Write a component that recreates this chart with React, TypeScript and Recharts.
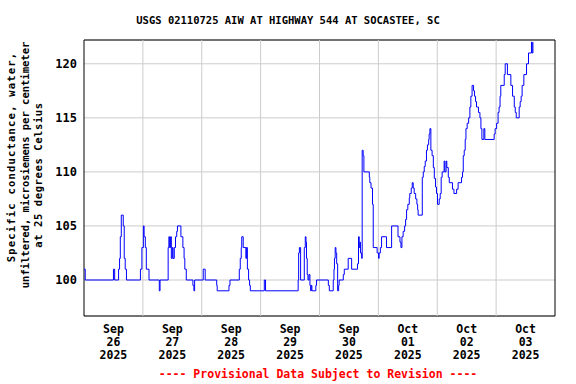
import React from 'react';
import { LineChart, Line, XAxis, YAxis, CartesianGrid, ReferenceLine, ReferenceArea } from 'recharts';

// hours since 2025-09-26 00:00 (change points of the step series)
const hours = [
  0, 0.5, 12, 12.5, 14.1, 14.5, 14.8, 15.2, 16.0, 16.4, 16.8, 17.3,
  23.0, 23.6, 24.2, 24.5, 25.0, 25.4, 26.5, 30.7, 31.0,
  34.3, 34.6, 34.9, 35.3, 35.6, 36.0, 36.3, 36.8, 37.3, 37.8, 38.1, 39.5, 40.3, 40.8, 41.1, 41.7,
  44.4, 44.8, 45.1, 48.6, 49.4, 54.1, 54.3, 59.1, 59.5,
  63.3, 63.7, 64.1, 64.3, 64.9, 66.0, 66.2, 66.6, 67.1, 67.5, 67.8, 73.5, 74.0,
  87.3, 87.5, 87.8, 88.3, 89.8, 90.2, 90.5, 90.7, 91.0, 91.3, 91.7, 92.1, 92.4, 92.6, 92.9, 94.5, 94.8,
  99.6, 100.0, 101.6, 101.9, 102.1, 102.4, 102.7, 103.0, 103.4, 103.8, 104.0, 105.7, 106.1, 107.7, 109.1,
  111.5, 111.9, 112.2, 112.5, 112.7, 113.2, 113.4, 113.8, 114.1, 116.3, 116.5, 117.0, 117.6, 117.9,
  119.5, 120.1, 120.3, 120.8, 121.3, 123.3, 125.4, 128.0, 128.8, 129.2, 129.6, 130.1, 130.7, 131.1,
  131.5, 132.0, 132.6, 132.8, 133.4, 133.8, 134.2, 134.6, 135.2, 135.7, 136.0, 136.2,
  137.9, 138.3, 138.7, 139.1, 139.6, 140.0, 140.5, 140.7, 141.0, 141.4, 141.9, 142.4, 142.8, 143.3,
  143.7, 144.1, 144.8, 145.2, 145.6, 146.0, 146.8, 147.1, 147.6, 147.9, 148.5, 148.9, 150.2, 150.8,
  151.9, 152.5, 153.9, 154.3, 154.6, 155.0, 155.4, 155.7, 156.2, 156.8, 157.3, 157.7, 158.2, 158.8,
  159.2, 159.6, 160.0, 160.8, 161.4, 161.8, 162.2, 163.0, 163.4, 167.2, 167.6, 168.2, 168.8, 169.2,
  169.6, 169.9, 171.3, 171.7, 172.6, 174.0, 174.7, 175.4, 175.8, 176.2, 177.4, 177.8, 178.2, 178.6,
  179.3, 180.4, 181.2, 182.4, 182.7, 183.0,
];

const values = [
  101, 100, 101, 100, 101, 102, 104, 106, 105, 102, 101, 100,
  101, 103, 105, 104, 103, 101, 100, 99, 100,
  103, 104, 103, 104, 102, 103, 102, 103, 104, 104.5, 105, 104, 103, 102, 101, 100,
  99.5, 99, 100, 101, 100, 99.5, 99, 99.5, 100,
  101, 102, 103, 104, 103, 102, 103, 101, 100, 99.5, 99, 100, 99,
  100, 102.5, 103, 100, 103, 104, 103.5, 102, 100.5, 100, 100.5, 99.5, 99, 99.5, 99, 99.5, 100,
  99.5, 99, 100, 101, 102, 103, 102.5, 101.5, 99, 99.5, 100, 100.5, 101, 102, 101,
  101.5, 104, 103, 103.5, 102.5, 102, 112, 111.5, 110, 109.5, 109, 108.5, 107, 103,
  102.5, 102, 102.5, 103, 104, 103, 105, 104, 103.5, 103, 104, 104.5, 105, 105.6,
  106.5, 107, 107.6, 108, 108.5, 109, 108.5, 108, 107.5, 107, 106.5, 106,
  109.5, 110, 110.5, 111, 112, 112.5, 113, 113.5, 114, 112, 111.5, 110.4, 109.4, 108.6,
  108, 107, 107.5, 108, 109.5, 110, 111, 110, 111, 110.4, 109.5, 109, 108.4, 108,
  108.4, 109, 109.5, 110, 111.5, 112, 113, 114, 114.5, 115, 116, 117, 118, 117.5,
  117, 116.5, 116, 115.5, 115, 114, 113, 114, 113, 113.5, 114, 114.5, 115.5, 116,
  117, 118, 119, 120, 119, 118, 117, 116, 115.5, 115, 116, 116.5, 117, 118,
  119, 120, 121, 122, 121, 122,
];

const data = hours.map((t, i) => ({ t, v: values[i] }));

const xTickHours = [12, 36, 60, 84, 108, 132, 156, 180];
const xTickMonths = ['Sep', 'Sep', 'Sep', 'Sep', 'Sep', 'Oct', 'Oct', 'Oct'];
const xTickDays = ['26', '27', '28', '29', '30', '01', '02', '03'];
const xTickYears = ['2025', '2025', '2025', '2025', '2025', '2025', '2025', '2025'];
const dayGridHours = [24, 48, 72, 96, 120, 144, 168];
const yTicks = [100, 105, 110, 115, 120];
const yDomain: [number, number] = [96.67, 122.2];
const xDomain: [number, number] = [0, 192];

const titleText = 'USGS 02110725 AIW AT HIGHWAY 544 AT SOCASTEE, SC';
const yLabelLines = [
  'Specific conductance, water,',
  'unfiltered, microsiemens per centimeter',
  'at 25 degrees Celsius',
];
const footerText = '---- Provisional Data Subject to Revision ----';

const FONT = '"DejaVu Sans Mono", "Liberation Mono", monospace';
const yLabelCenters = [157, 165, 175];
const yLabelSpacing = [1.2, 0, 0.6];

const XTick = (props: any) => {
  const { x, y, payload } = props;
  const i = xTickHours.indexOf(payload.value);
  if (i < 0) return null;
  const lines = [xTickMonths[i], xTickDays[i], xTickYears[i]];
  return (
    <text x={x} y={y} textAnchor="middle" fontFamily={FONT} fontSize={11.5} fontWeight="bold" fill="#000">
      {lines.map((l, k) => (
        <tspan key={k} x={x} dy={k === 0 ? 9 : 13}>
          {l}
        </tspan>
      ))}
    </text>
  );
};

const YTick = (props: any) => {
  const { y, payload } = props;
  return (
    <text x={77} y={y} dy={4} textAnchor="end" fontFamily={FONT} fontSize={12} fontWeight="bold" fill="#000">
      {payload.value}
    </text>
  );
};

export default function App() {
  return (
    <div style={{ position: 'absolute', left: 0, top: 0, width: 576, height: 384, background: '#fff' }}>
      <LineChart
        width={576}
        height={384}
        data={data}
        margin={{ top: 40, right: 21, bottom: 18, left: 0 }}
      >
        <CartesianGrid vertical={false} stroke="#cccccc" strokeWidth={1} />
        {dayGridHours.map((h) => (
          <ReferenceLine key={h} x={h} stroke="#cccccc" strokeWidth={1} />
        ))}
        <XAxis
          type="number"
          dataKey="t"
          domain={xDomain}
          ticks={xTickHours}
          interval={0}
          height={50}
          axisLine={false}
          tickLine={false}
          tick={<XTick />}
          allowDataOverflow
        />
        <YAxis
          type="number"
          domain={yDomain}
          ticks={yTicks}
          width={84}
          axisLine={false}
          tickLine={false}
          tick={<YTick />}
          allowDataOverflow
        />
        <Line
          type="stepAfter"
          dataKey="v"
          stroke="#0000ff"
          strokeWidth={1}
          dot={false}
          activeDot={false}
          isAnimationActive={false}
        />
        <ReferenceArea x1={0} x2={192} y1={yDomain[0]} y2={yDomain[1]} fill="none" fillOpacity={0} stroke="#000" strokeWidth={1} />
      </LineChart>
      <svg width={576} height={384} style={{ position: 'absolute', left: 0, top: 0, pointerEvents: 'none' }}>
        <text x={288} y={24} textAnchor="middle" fontFamily={FONT} fontSize={10.5} fontWeight="bold" fill="#000">
          {titleText}
        </text>
        {yLabelLines.map((l, i) => (
          <text
            key={i}
            transform={`translate(${15 + i * 13.5}, ${yLabelCenters[i]}) rotate(-90)`}
            textAnchor="middle"
            fontFamily={FONT}
            fontSize={10.5}
            fontWeight="bold"
            letterSpacing={yLabelSpacing[i]}
            fill="#000"
          >
            {l}
          </text>
        ))}
        <text x={318} y={378} textAnchor="middle" fontFamily={FONT} fontSize={11.5} fontWeight="bold" fill="#ff0000">
          {footerText}
        </text>
      </svg>
    </div>
  );
}
